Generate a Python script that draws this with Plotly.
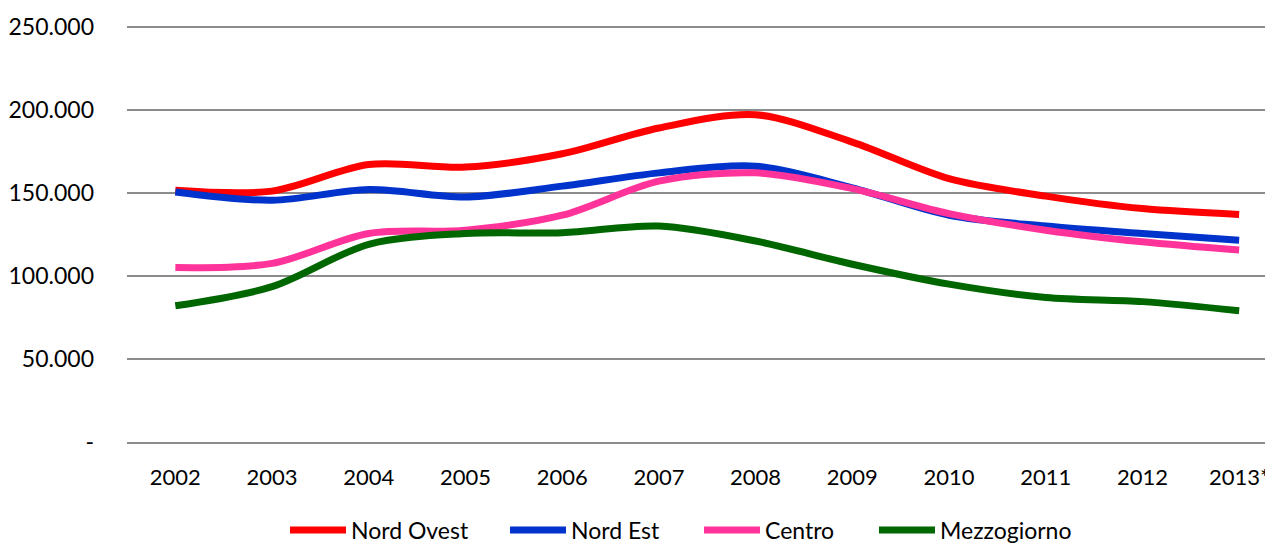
import plotly.graph_objects as go

years = ['2002', '2003', '2004', '2005', '2006', '2007', '2008', '2009', '2010', '2011', '2012', '2013*']

nord_ovest = [151500, 151000, 167000, 165500, 173500, 189000, 197000, 180500, 158500, 148000, 140500, 137000]
nord_est = [150500, 145500, 152000, 147500, 154000, 162000, 166000, 153000, 136500, 130000, 125500, 121500]
centro = [105000, 107500, 125500, 127500, 136500, 157000, 162000, 152500, 137500, 127500, 120500, 115500]
mezzogiorno = [82000, 93500, 119000, 125500, 126000, 130000, 121000, 107000, 95000, 87000, 84500, 79000]

y_ticks = [0, 50000, 100000, 150000, 200000, 250000]
y_labels = ['-', '50.000', '100.000', '150.000', '200.000', '250.000']

FONT = 'Lato'
GRID = '#8c8c8c'
# the page body has an 8px margin, so the figure is drawn 8px smaller and shifted
W, H = 1265, 537
PLOT_LEFT = 119
PLOT_WIDTH = W - PLOT_LEFT


def add_line(fig, name, values, color, legend):
    fig.add_trace(go.Scatter(
        x=years, y=values, name=name, mode='lines', legend=legend,
        line=dict(color=color, width=7, shape='spline', smoothing=0.9),
    ))


def legend_at(px):
    # each series gets its own legend box so the spacing can follow the original
    return dict(orientation='h', x=(px - PLOT_LEFT) / PLOT_WIDTH, xanchor='left',
                y=-0.211, yanchor='middle', font=dict(size=23), itemwidth=56,
                bgcolor='rgba(0,0,0,0)')


def main():
    fig = go.Figure()
    add_line(fig, 'Nord Ovest', nord_ovest, '#ff0000', 'legend')
    add_line(fig, 'Nord Est', nord_est, '#0033cc', 'legend2')
    add_line(fig, 'Centro', centro, '#ff3399', 'legend3')
    add_line(fig, 'Mezzogiorno', mezzogiorno, '#006600', 'legend4')

    fig.update_layout(
        width=W, height=H,
        margin=dict(l=PLOT_LEFT, r=0, t=17, b=103, autoexpand=False),
        paper_bgcolor='white', plot_bgcolor='white',
        font=dict(family=FONT, size=23, color='black'),
        showlegend=True,
        legend=legend_at(277),
        legend2=legend_at(497),
        legend3=legend_at(691),
        legend4=legend_at(866),
    )
    fig.update_xaxes(
        type='category', range=[-0.5, 11.35], automargin=False,
        showgrid=False, zeroline=False,
        showline=True, linecolor=GRID, linewidth=1.5,
        ticks='', ticklabelstandoff=15, tickfont=dict(size=22),
    )
    fig.update_yaxes(
        range=[0, 251000], tickvals=y_ticks, ticktext=y_labels, automargin=False,
        showgrid=True, gridcolor=GRID, gridwidth=1.5,
        zeroline=False, showline=False, ticks='',
        ticklabelstandoff=32,
    )
    fig.write_html('out.html')


if __name__ == '__main__':
    main()
